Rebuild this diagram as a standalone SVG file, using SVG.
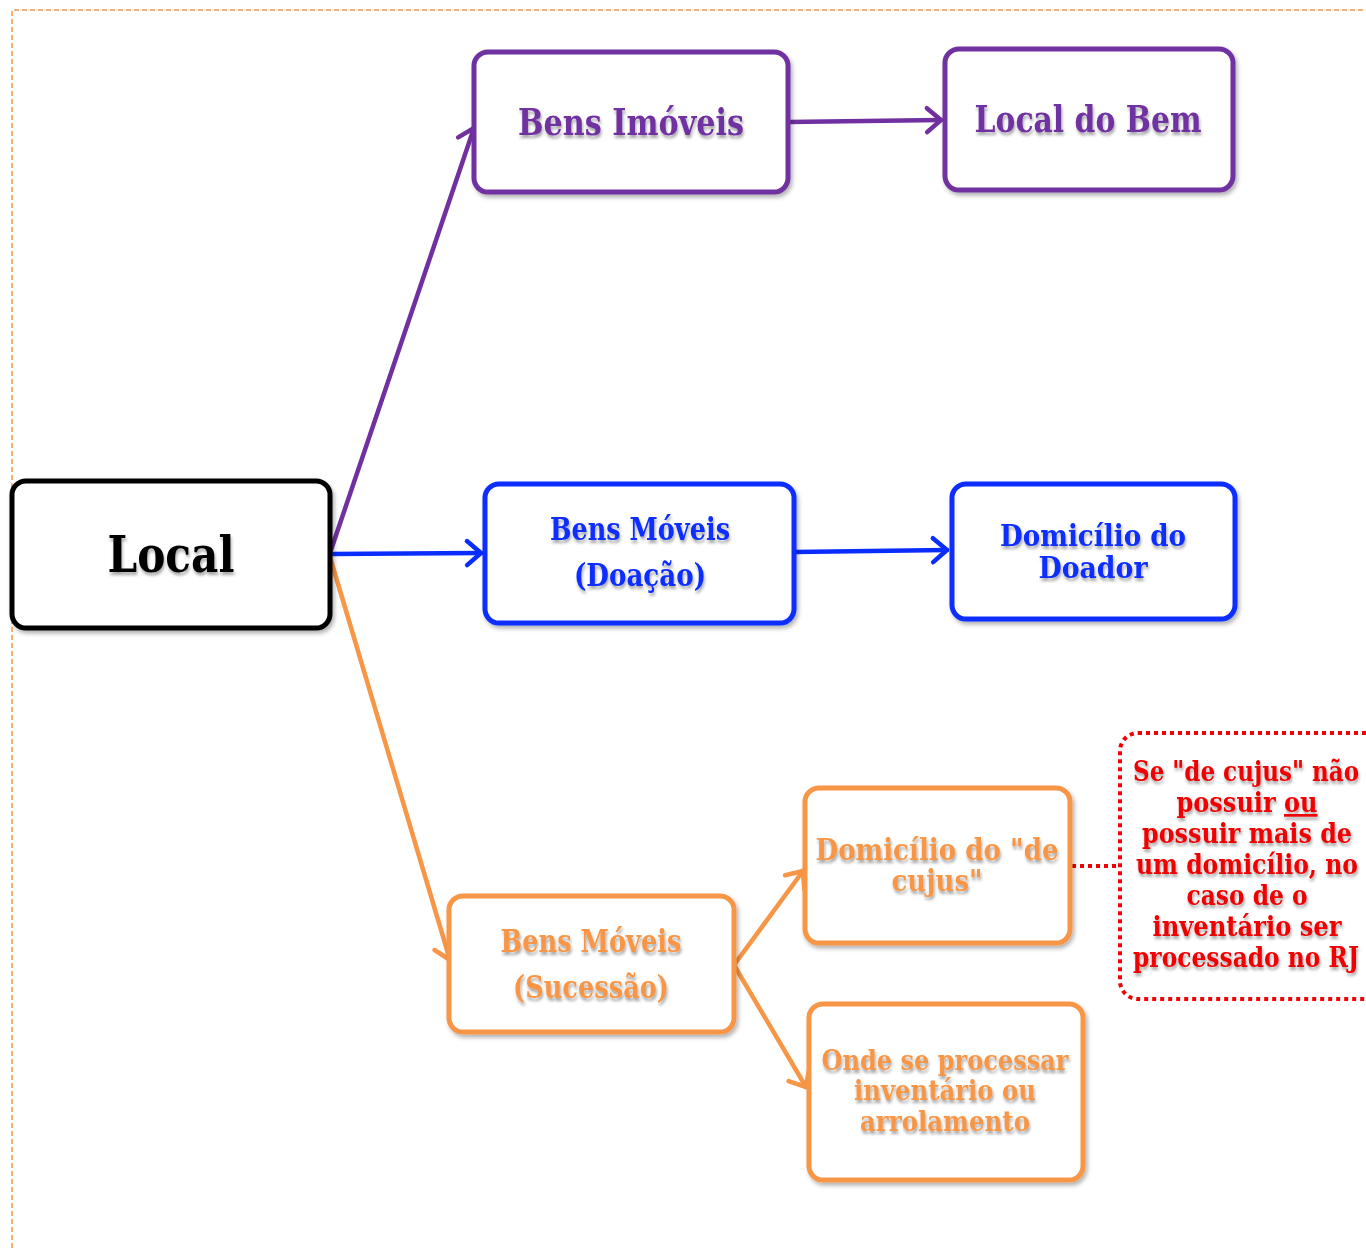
<svg xmlns="http://www.w3.org/2000/svg" width="1366" height="1248" viewBox="0 0 1366 1248">
<style>
.box{fill:#fff;stroke-width:5;filter:url(#sh)}
.t{font-family:"DejaVu Serif","Liberation Serif",serif;font-weight:bold;text-anchor:middle;filter:url(#tsh)}
.c{fill:none;stroke-width:4.5;stroke-linecap:round}
.pu{stroke:#7030A0}.bl{stroke:#0A2DFF}.or{stroke:#F79646}
.fpu{fill:#7030A0}.fbl{fill:#0A2DFF}.for{fill:#F79646}.fred{fill:#F00000}
</style>
<defs>
<filter id="sh" x="-10%" y="-10%" width="125%" height="130%"><feDropShadow dx="2" dy="3" stdDeviation="2" flood-color="#000" flood-opacity="0.3"/></filter>
<filter id="tsh" x="-10%" y="-30%" width="125%" height="170%"><feDropShadow dx="1" dy="3" stdDeviation="1.8" flood-color="#000" flood-opacity="0.35"/></filter>
<marker id="apu" markerUnits="userSpaceOnUse" markerWidth="36" markerHeight="36" viewBox="-18 -18 36 36" refX="0" refY="0" orient="auto"><path d="M-14,-12 L0,0 L-14,12" fill="none" stroke="#7030A0" stroke-width="4.5" stroke-linecap="round" stroke-linejoin="round"/></marker>
<marker id="abl" markerUnits="userSpaceOnUse" markerWidth="36" markerHeight="36" viewBox="-18 -18 36 36" refX="0" refY="0" orient="auto"><path d="M-14,-12 L0,0 L-14,12" fill="none" stroke="#0A2DFF" stroke-width="4.5" stroke-linecap="round" stroke-linejoin="round"/></marker>
<marker id="aor" markerUnits="userSpaceOnUse" markerWidth="36" markerHeight="36" viewBox="-18 -18 36 36" refX="0" refY="0" orient="auto"><path d="M-14,-12 L0,0 L-14,12" fill="none" stroke="#F79646" stroke-width="4.5" stroke-linecap="round" stroke-linejoin="round"/></marker>
</defs>
<rect width="1366" height="1248" fill="#fff"/>
<path d="M12,1248 L12,10 L1366,10" fill="none" stroke="#F79646" stroke-width="1.5" stroke-dasharray="5,3"/>

<g id="connectors">
<line class="c pu" x1="330" y1="553" x2="474" y2="128" marker-end="url(#apu)"/>
<line class="c pu" x1="788" y1="122" x2="941" y2="120" marker-end="url(#apu)"/>
<line class="c bl" x1="330" y1="554" x2="481" y2="553" marker-end="url(#abl)"/>
<line class="c bl" x1="794" y1="552" x2="947" y2="550" marker-end="url(#abl)"/>
<line class="c or" x1="330" y1="557" x2="450" y2="960" marker-end="url(#aor)"/>
<line class="c or" x1="734" y1="965" x2="803" y2="871" marker-end="url(#aor)"/>
<line class="c or" x1="734" y1="965" x2="806" y2="1087" marker-end="url(#aor)"/>
<line x1="1072" y1="866" x2="1120" y2="866" stroke="#F00000" stroke-width="4" stroke-dasharray="4,4"/>
</g>

<g id="local">
<rect class="box" x="12" y="481" width="318" height="147" rx="14" stroke="#000"/>
<text class="t" x="171" y="572" font-size="50" textLength="127" lengthAdjust="spacingAndGlyphs" fill="#000">Local</text>
</g>

<g id="bens-imoveis">
<rect class="box" x="474" y="52" width="314" height="140" rx="14" stroke="#7030A0"/>
<text class="t fpu" x="631" y="135" font-size="37" textLength="226" lengthAdjust="spacingAndGlyphs">Bens Imóveis</text>
</g>

<g id="local-do-bem">
<rect class="box" x="945" y="49" width="288" height="141" rx="14" stroke="#7030A0"/>
<text class="t fpu" x="1088" y="132" font-size="37" textLength="227" lengthAdjust="spacingAndGlyphs">Local do Bem</text>
</g>

<g id="bens-moveis-doacao">
<rect class="box" x="485" y="484" width="309" height="139" rx="14" stroke="#0A2DFF"/>
<text class="t fbl" x="640" y="540" font-size="31" textLength="180" lengthAdjust="spacingAndGlyphs">Bens Móveis</text>
<text class="t fbl" x="640" y="586" font-size="31" textLength="132" lengthAdjust="spacingAndGlyphs">(Doação)</text>
</g>

<g id="domicilio-doador">
<rect class="box" x="952" y="484" width="283" height="135" rx="14" stroke="#0A2DFF"/>
<text class="t fbl" x="1093" y="546" font-size="30" textLength="186" lengthAdjust="spacingAndGlyphs">Domicílio do</text>
<text class="t fbl" x="1093" y="578" font-size="30" textLength="109" lengthAdjust="spacingAndGlyphs">Doador</text>
</g>

<g id="bens-moveis-sucessao">
<rect class="box" x="449" y="896" width="285" height="136" rx="14" stroke="#F79646"/>
<text class="t for" x="591" y="952" font-size="31" textLength="181" lengthAdjust="spacingAndGlyphs">Bens Móveis</text>
<text class="t for" x="591" y="998" font-size="31" textLength="156" lengthAdjust="spacingAndGlyphs">(Sucessão)</text>
</g>

<g id="domicilio-de-cujus">
<rect class="box" x="805" y="788" width="265" height="155" rx="14" stroke="#F79646"/>
<text class="t for" x="937" y="860" font-size="30" textLength="243" lengthAdjust="spacingAndGlyphs">Domicílio do "de</text>
<text class="t for" x="937" y="891" font-size="30" textLength="91" lengthAdjust="spacingAndGlyphs">cujus"</text>
</g>

<g id="onde-processar">
<rect class="box" x="809" y="1004" width="274" height="176" rx="14" stroke="#F79646"/>
<text class="t for" x="945" y="1070" font-size="27" textLength="247" lengthAdjust="spacingAndGlyphs">Onde se processar</text>
<text class="t for" x="945" y="1100" font-size="27" textLength="182" lengthAdjust="spacingAndGlyphs">inventário ou</text>
<text class="t for" x="945" y="1131" font-size="27" textLength="170" lengthAdjust="spacingAndGlyphs">arrolamento</text>
</g>

<g id="nota">
<rect x="1120" y="733" width="270" height="266" rx="18" fill="none" stroke="#F00000" stroke-width="4" stroke-dasharray="4,4"/>
<text class="t fred" x="1246" y="781" font-size="27" textLength="226" lengthAdjust="spacingAndGlyphs">Se "de cujus" não</text>
<text class="t fred" x="1247" y="812" font-size="27" textLength="141" lengthAdjust="spacingAndGlyphs">possuir <tspan text-decoration="underline">ou</tspan></text>
<text class="t fred" x="1247" y="843" font-size="27" textLength="210" lengthAdjust="spacingAndGlyphs">possuir mais de</text>
<text class="t fred" x="1247" y="874" font-size="27" textLength="222" lengthAdjust="spacingAndGlyphs">um domicílio, no</text>
<text class="t fred" x="1247" y="905" font-size="27" textLength="121" lengthAdjust="spacingAndGlyphs">caso de o</text>
<text class="t fred" x="1247" y="936" font-size="27" textLength="189" lengthAdjust="spacingAndGlyphs">inventário ser</text>
<text class="t fred" x="1246" y="967" font-size="27" textLength="226" lengthAdjust="spacingAndGlyphs">processado no RJ</text>
</g>
</svg>
